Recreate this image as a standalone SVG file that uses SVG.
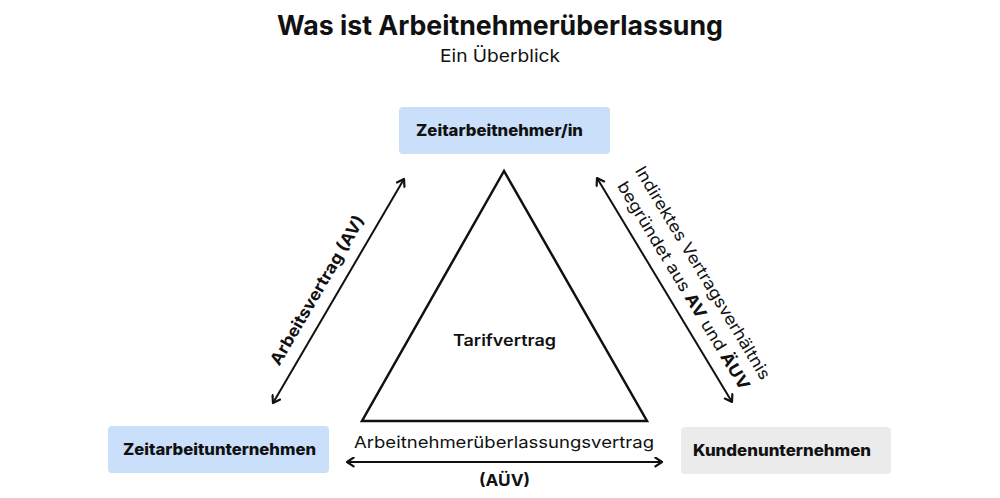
<svg xmlns="http://www.w3.org/2000/svg" width="1000" height="498" viewBox="0 0 1000 498">
  <style>
    text { font-family: Inter, "Open Sans", "DejaVu Sans", sans-serif; fill: #111; }
    .title { font-size: 27px; font-weight: 700; }
    .sub { font-size: 17px; font-weight: 400; }
    .node { font-size: 16px; font-weight: 800; }
    .lbl { font-size: 16.5px; font-weight: 400; }
    .lblb { font-size: 16.5px; font-weight: 700; }
    .conn { stroke: #111; stroke-width: 2; fill: none; }
    .blue { fill: #c9dffa; }
    .gray { fill: #ebebeb; }
  </style>
  <defs>
    <marker id="arr" viewBox="0 0 10 10" refX="8" refY="5" markerWidth="11" markerHeight="11" markerUnits="userSpaceOnUse" orient="auto-start-reverse">
      <path d="M2,1 L8,5 L2,9" fill="none" stroke="#111" stroke-width="2" stroke-linecap="round" stroke-linejoin="round"/>
    </marker>
  </defs>
  <rect width="1000" height="498" fill="#fff"/>

  <g id="header">
    <text class="title" x="500" y="35" text-anchor="middle" textLength="446" lengthAdjust="spacingAndGlyphs">Was ist Arbeitnehmerüberlassung</text>
    <text class="sub" x="500" y="62" text-anchor="middle" textLength="120" lengthAdjust="spacingAndGlyphs">Ein Überblick</text>
  </g>

  <g id="node-zeitarbeitnehmer">
    <rect class="blue" x="399" y="107" width="211" height="47" rx="4"/>
    <text class="node" x="499.5" y="136" text-anchor="middle" textLength="167" lengthAdjust="spacingAndGlyphs">Zeitarbeitnehmer/in</text>
  </g>

  <g id="node-zeitarbeitunternehmen">
    <rect class="blue" x="108" y="426" width="221" height="47" rx="4"/>
    <text class="node" x="219.5" y="455" text-anchor="middle" textLength="193" lengthAdjust="spacingAndGlyphs">Zeitarbeitunternehmen</text>
  </g>

  <g id="node-kundenunternehmen">
    <rect class="gray" x="681" y="427" width="210" height="47" rx="4"/>
    <text class="node" x="782" y="456" text-anchor="middle" textLength="178" lengthAdjust="spacingAndGlyphs">Kundenunternehmen</text>
  </g>

  <g id="node-tarifvertrag">
    <polygon points="504,171 362,421 647,421" fill="none" stroke="#111" stroke-width="2.5" stroke-linejoin="miter"/>
    <text x="504.5" y="346" text-anchor="middle" style="font-size:16px;font-weight:600" textLength="103" lengthAdjust="spacingAndGlyphs">Tarifvertrag</text>
  </g>

  <g id="connectors">
    <line class="conn" x1="273" y1="403" x2="404" y2="179" marker-start="url(#arr)" marker-end="url(#arr)"/>
    <line class="conn" x1="597" y1="178" x2="732" y2="402" marker-start="url(#arr)" marker-end="url(#arr)"/>
    <line class="conn" x1="347" y1="462" x2="662" y2="462" marker-start="url(#arr)" marker-end="url(#arr)"/>
  </g>

  <g id="labels">
    <g transform="translate(338.5,291) rotate(-59.7)">
      <text class="lblb" x="-10" y="-13" text-anchor="middle" textLength="170" lengthAdjust="spacingAndGlyphs">Arbeitsvertrag (AV)</text>
    </g>
    <g transform="translate(664.5,290) rotate(58.9)">
      <text class="lbl" x="5" y="-36" text-anchor="middle" textLength="246" lengthAdjust="spacingAndGlyphs">Indirektes Vertragsverhältnis</text>
      <text class="lbl" x="6" y="-13" text-anchor="middle" textLength="240" lengthAdjust="spacingAndGlyphs">begründet aus <tspan font-weight="700">AV</tspan> und <tspan font-weight="700">ÄUV</tspan></text>
    </g>
    <text class="lbl" x="504" y="448" text-anchor="middle" textLength="300" lengthAdjust="spacingAndGlyphs">Arbeitnehmerüberlassungsvertrag</text>
    <text class="lblb" x="504.5" y="486" text-anchor="middle" textLength="51" lengthAdjust="spacingAndGlyphs">(AÜV)</text>
  </g>
</svg>
